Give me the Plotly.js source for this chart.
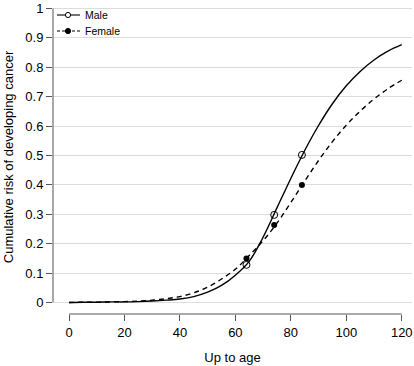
<!DOCTYPE html>
<html>
<head>
<meta charset="utf-8">
<script src="https://cdn.plot.ly/plotly-3.0.1.min.js"></script>
<style>html,body{margin:0;padding:0;background:#fff;}#chart{width:414px;height:366px;}</style>
</head>
<body>
<div id="chart"></div>
<script>
var ages = [0,5,10,15,20,25,30,35,40,45,50,55,60,65,70,75,80,85,90,95,100,105,110,115,120];
var maleRisk = [0,0.001,0.001,0.002,0.002,0.003,0.005,0.008,0.012,0.020,0.035,0.058,0.093,0.140,0.222,0.322,0.422,0.517,0.602,0.676,0.737,0.786,0.825,0.855,0.877];
var femaleRisk = [0,0.001,0.001,0.002,0.003,0.005,0.008,0.013,0.020,0.033,0.052,0.080,0.113,0.160,0.210,0.270,0.340,0.413,0.483,0.547,0.603,0.651,0.692,0.727,0.756];
var pointAges = [64,74,84];
var malePoints = [0.128,0.298,0.502];
var femalePoints = [0.150,0.264,0.400];
var seriesNames = ['Male', 'Female'];
var xTicks = [0,20,40,60,80,100,120];
var yTicks = [0,0.1,0.2,0.3,0.4,0.5,0.6,0.7,0.8,0.9,1];
var yTickText = ['0','0.1','0.2','0.3','0.4','0.5','0.6','0.7','0.8','0.9','1'];

var dashPat = '5px,4px';
var traces = [
  {x: ages, y: maleRisk, name: seriesNames[0], mode: 'lines', line: {color: '#000', width: 1.4, shape: 'spline', smoothing: 1}, showlegend: false, hoverinfo: 'skip'},
  {x: ages, y: femaleRisk, name: seriesNames[1], mode: 'lines', line: {color: '#000', width: 1.4, dash: dashPat, shape: 'spline', smoothing: 1}, showlegend: false, hoverinfo: 'skip'},
  {x: pointAges, y: malePoints, mode: 'markers', marker: {symbol: 'circle-open', size: 7, color: '#000', line: {width: 1, color: '#000'}}, showlegend: false},
  {x: pointAges, y: femalePoints, mode: 'markers', marker: {symbol: 'circle', size: 6, color: '#000'}, showlegend: false}
];

// manual legend (plot area: 53..412 px wide, 0..314 px high)
var PL = 53, PW = 359, PH = 314;
function px(x) { return (x - PL) / PW; }
function py(y) { return (PH - y) / PH; }
var legRows = [15, 31];
var shapes = [
  {type: 'line', xref: 'x', yref: 'paper', x0: 0, x1: 120, y0: 0, y1: 0, line: {color: '#555', width: 1}},
  {type: 'line', xref: 'paper', yref: 'y', x0: 0, x1: 0, y0: 0, y1: 1, line: {color: '#555', width: 1}},
  {type: 'line', xref: 'paper', yref: 'paper', x0: px(57), x1: px(80), y0: py(legRows[0]), y1: py(legRows[0]), line: {color: '#000', width: 1.1}},
  {type: 'line', xref: 'paper', yref: 'paper', x0: px(57), x1: px(80), y0: py(legRows[1]), y1: py(legRows[1]), line: {color: '#000', width: 1.1, dash: '3px,2px'}},
  {type: 'circle', xref: 'paper', yref: 'paper', xsizemode: 'pixel', ysizemode: 'pixel', xanchor: px(68), yanchor: py(legRows[0]), x0: -2.6, x1: 2.6, y0: -2.6, y1: 2.6, line: {color: '#000', width: 1}, fillcolor: '#fff'},
  {type: 'circle', xref: 'paper', yref: 'paper', xsizemode: 'pixel', ysizemode: 'pixel', xanchor: px(68), yanchor: py(legRows[1]), x0: -2.6, x1: 2.6, y0: -2.6, y1: 2.6, line: {color: '#000', width: 1}, fillcolor: '#000'}
];
var annotations = seriesNames.map(function (n, i) {
  return {text: n, xref: 'paper', yref: 'paper', x: px(83), y: py(legRows[i]), xanchor: 'left', yanchor: 'middle', showarrow: false, font: {size: 10.5, color: '#000'}};
});

var layout = {
  width: 414, height: 366,
  margin: {l: 53, r: 2, t: 0, b: 52},
  paper_bgcolor: '#fff', plot_bgcolor: '#fff',
  font: {family: 'Liberation Sans, Arial, sans-serif', size: 13, color: '#000'},
  showlegend: false,
  xaxis: {
    range: [-5.77, 123.7], tickvals: xTicks, ticktext: xTicks.map(String),
    ticks: 'outside', ticklen: 6, tickcolor: '#555', tickwidth: 1,
    showgrid: false, zeroline: false, showline: false,
    title: {text: 'Up to age', font: {size: 13}, standoff: 14}
  },
  yaxis: {
    range: [-0.0391, 1.0289], tickvals: yTicks, ticktext: yTickText,
    ticks: 'outside', ticklen: 6, tickcolor: '#555', tickwidth: 1,
    showgrid: true, gridcolor: '#dcdcdc', gridwidth: 1,
    zeroline: false, showline: false,
    title: {text: 'Cumulative risk of developing cancer', font: {size: 13}, standoff: 8}
  },
  shapes: shapes,
  annotations: annotations
};

Plotly.newPlot('chart', traces, layout, {staticPlot: true});
</script>
</body>
</html>
